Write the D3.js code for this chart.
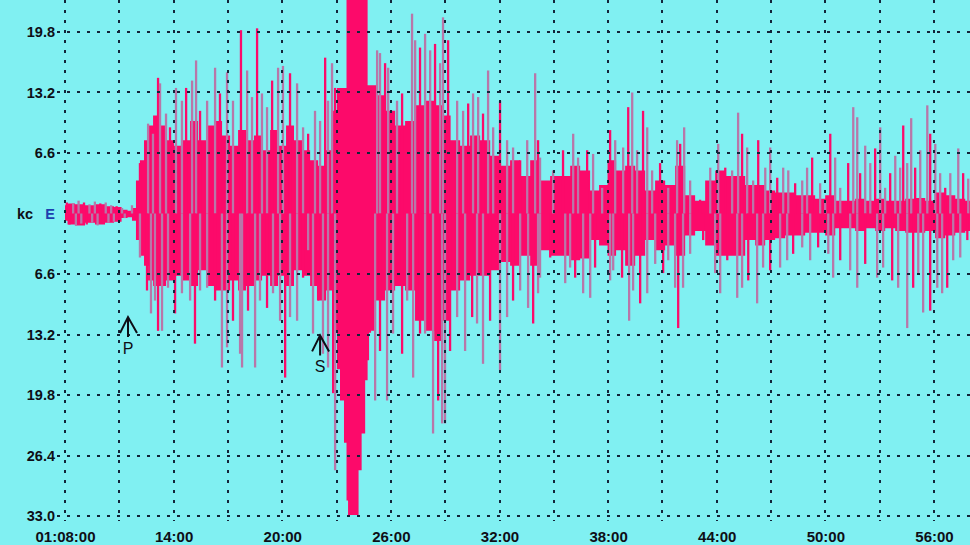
<!DOCTYPE html>
<html><head><meta charset="utf-8">
<script src="https://cdn.jsdelivr.net/npm/d3@7"></script>
<style>html,body{margin:0;padding:0;background:#80f0f2;overflow:hidden}</style>
</head><body><svg id="c" width="970" height="545"></svg>
<script>
// ---- data (minutes after 01:00, amplitude in chart units) ----
const timeTicks = [8, 14, 20, 26, 32, 38, 44, 50, 56];
const timeTickLabels = ["01:08:00","14:00","20:00","26:00","32:00","38:00","44:00","50:00","56:00"];
const gridTimes = [8, 11, 14, 17, 20, 23, 26, 29, 32, 35, 38, 41, 44, 47, 50, 53, 56];
const ampTicks = [19.8, 13.2, 6.6, 0, -6.6, -13.2, -19.8, -26.4, -33.0];
const ampTickLabels = ["19.8","13.2","6.6","E","6.6","13.2","19.8","26.4","33.0"];
const channelLabel = "kc";

const coreTime = [8.00,8.28,8.83,9.38,9.93,10.49,10.93,11.32,11.59,11.81,
 12.03,12.25,12.48,12.70,13.03,13.36,13.80,14.24,14.69,15.13,
 15.57,16.01,16.45,16.90,17.34,17.78,18.22,18.66,19.11,19.55,
 19.99,20.43,20.87,21.32,21.76,22.20,22.64,22.97,23.08,23.30,
 23.52,23.58,23.69,24.13,24.30,24.47,24.69,24.74,24.85,24.96,
 25.40,25.96,26.51,27.06,27.61,
 28.17,28.61,29.05,29.55,30.10,30.65,31.21,31.76,32.31,32.86,
 33.42,33.97,34.52,35.07,35.63,36.18,36.73,37.28,37.72,38.22,
 38.66,39.22,39.77,40.32,40.87,41.43,41.98,42.53,43.08,43.64,
 44.19,44.74,45.29,45.85,46.40,46.95,47.50,48.06,48.61,49.16,
 49.71,50.27,50.82,51.37,51.92,52.48,53.03,53.58,54.13,54.69,
 55.24,55.79,56.34,56.90,57.45,58.00];
const coreHigh = [0.9,1.1,1.0,0.9,1.0,0.8,0.7,0.4,0.3,0.6,
 3.6,5.8,8.0,9.6,10.7,9.6,8.0,7.4,8.0,10.1,
 8.0,9.6,10.1,8.5,7.4,9.1,8.0,8.5,6.9,9.1,
 7.4,9.6,8.0,6.9,5.8,5.2,6.9,11.2,13.7,13.7,
 13.7,26,26,26,26,26,26,14.0,14.0,14.0,
 12.9,11.2,9.6,10.1,11.8,
 12.3,11.8,10.7,8.0,7.4,8.5,8.0,6.3,5.2,5.8,
 4.1,5.8,3.6,4.1,4.1,5.2,4.7,2.5,3.1,5.8,
 4.7,5.2,4.7,2.5,3.6,3.1,5.2,2.0,1.4,3.6,
 4.7,4.1,4.1,3.1,3.1,2.5,2.3,2.3,2.0,2.0,
 1.6,2.0,1.4,1.4,1.6,1.4,1.6,1.4,1.4,1.6,
 1.7,1.4,2.3,2.0,1.6,1.4];
const coreLow = [-0.8,-1.2,-1.3,-1.0,-1.2,-1.0,-0.9,-0.5,-0.4,-0.8,
 -2.9,-4.6,-5.7,-7.3,-7.9,-7.9,-7.3,-6.8,-7.3,-7.9,
 -6.2,-7.9,-8.4,-8.4,-7.3,-8.4,-7.9,-7.3,-6.8,-7.9,
 -6.8,-7.9,-6.2,-6.8,-7.9,-9.5,-8.4,-12.8,-17.0,-20.4,
 -25.0,-31.3,-32.9,-32.9,-28.0,-24.0,-18.2,-16.0,-13.0,-12.8,
 -9.5,-8.4,-7.9,-8.4,-11.7,
 -12.8,-13.9,-11.7,-8.4,-7.3,-6.8,-6.8,-6.2,-5.3,-5.7,
 -4.6,-5.7,-4.0,-4.6,-4.6,-5.1,-4.9,-2.9,-3.5,-4.6,
 -4.0,-5.7,-4.6,-2.9,-4.0,-3.5,-4.6,-2.4,-1.9,-3.5,
 -4.6,-4.6,-4.6,-2.9,-3.5,-2.9,-2.7,-2.4,-2.4,-2.1,
 -2.1,-2.4,-1.6,-1.6,-1.9,-1.6,-1.9,-1.6,-1.9,-2.1,
 -2.1,-1.9,-2.7,-2.4,-2.1,-1.9];

// upward peaks [minute, amplitude]
const upPeaks = [[8.10,1.2],[8.45,1.1],[8.75,1.4],[9.05,1.2],[9.35,1.0],[9.65,1.3],[9.95,1.1],[10.25,1.2],[10.55,0.9],[10.85,0.8],[11.15,0.6],[11.70,0.9],
 [12.14,5.5],[12.59,9.8],[12.86,8.7],[13.14,14.8],[13.25,14.2],[13.58,10.9],[13.80,9.4],[14.13,13.7],[14.46,12.3],[14.69,13.7],
 [15.02,14.5],[15.24,16.7],[15.46,11.2],[15.85,12.3],[16.29,15.9],[16.56,13.1],[16.95,15.4],[17.28,12.3],[17.72,20.0],[18.06,15.6],
 [18.33,12.7],[18.61,20.2],[18.88,13.1],[19.16,11.6],[19.44,14.5],[19.77,15.9],[20.04,16.1],[20.43,15.3],[20.82,14.2],[21.15,9.4],
 [21.43,8.7],[21.81,11.2],[22.09,10.1],[22.37,17.0],[22.53,12.3],[22.75,16.4],[22.92,13.7],[25.24,17.8],[25.40,17.5],[25.68,16.4],
 [25.85,15.9],[26.34,12.3],[26.62,13.1],[27.17,21.8],[27.34,18.9],[27.61,18.1],[27.89,19.6],[28.17,17.8],[28.44,18.5],[28.72,16.4],
 [28.88,21.4],[29.16,18.9],[29.66,12.3],[29.99,11.2],[30.27,12.0],[30.54,13.1],[30.82,12.7],[31.09,10.9],[31.37,15.6],[31.65,9.4],
 [32.03,12.3],[32.42,8.0],[32.75,7.2],[33.14,5.8],[33.53,8.0],[33.97,15.3],[34.13,8.0],[34.24,6.1],[34.96,4.7],[35.51,6.9],
 [36.07,8.7],[36.34,6.1],[36.84,6.9],[37.17,6.5],[37.67,2.8],[38.11,9.1],[38.39,8.0],[38.83,7.2],[39.11,11.6],[39.33,13.2],
 [39.60,6.9],[39.93,11.2],[40.16,9.4],[40.43,4.7],[40.87,5.5],[41.32,2.8],[41.81,8.0],[41.98,7.6],[42.20,9.4],[42.53,3.6],
 [43.08,1.5],[43.64,5.0],[44.08,7.6],[44.47,5.0],[44.85,4.7],[45.18,11.0],[45.40,8.7],[45.68,7.2],[46.01,3.6],[46.29,8.0],
 [46.68,5.0],[46.95,7.2],[47.34,3.9],[47.67,5.0],[47.95,4.7],[48.33,3.3],[48.72,3.6],[48.99,5.0],[49.27,6.1],[49.71,3.3],
 [49.99,1.4],[50.27,8.7],[50.54,6.1],[50.82,2.8],[51.26,5.5],[51.54,11.6],[51.76,10.5],[51.92,4.4],[52.20,7.4],[52.48,5.5],
 [52.75,7.1],[53.03,9.4],[53.30,2.8],[53.58,4.4],[53.86,6.3],[54.13,5.0],[54.30,9.6],[54.52,5.5],[54.74,10.4],[54.96,5.0],
 [55.24,6.9],[55.63,11.8],[55.79,8.7],[56.07,7.6],[56.34,4.4],[56.62,2.8],[56.90,4.4],[57.34,7.1],[57.61,4.4],[57.89,3.8]];

// downward peaks [minute, amplitude]
const downPeaks = [[8.25,-1.2],[8.60,-1.3],[8.90,-1.1],[9.20,-1.2],[9.50,-1.0],[9.80,-1.3],[10.10,-1.1],[10.40,-1.0],[10.70,-0.9],[11.00,-0.8],[11.30,-0.5],
 [12.14,-4.8],[12.53,-8.4],[12.75,-10.9],[12.97,-9.5],[13.14,-12.8],[13.36,-12.8],[13.69,-8.1],[14.08,-10.9],[14.46,-8.7],[14.91,-9.5],
 [15.18,-14.2],[15.46,-8.4],[15.85,-8.1],[16.29,-9.5],[16.67,-16.8],[16.95,-14.6],[17.28,-11.7],[17.67,-15.3],[17.78,-16.8],[18.11,-10.6],
 [18.50,-16.8],[18.77,-9.5],[19.16,-10.3],[19.49,-8.7],[19.88,-11.7],[20.16,-17.9],[20.43,-11.3],[20.82,-11.7],[21.15,-7.0],[21.43,-4.0],
 [21.70,-13.1],[21.98,-9.5],[22.25,-15.3],[22.53,-16.8],[22.81,-19.6],[22.92,-28.0],[25.13,-20.4],[25.40,-15.0],[25.79,-20.4],[26.12,-13.1],
 [26.62,-15.3],[26.90,-9.5],[27.23,-17.9],[27.61,-13.1],[27.89,-13.1],[28.33,-24.0],[28.61,-20.4],[28.83,-22.9],[28.99,-22.9],[29.27,-15.0],
 [29.66,-11.3],[30.10,-15.0],[30.49,-11.3],[30.76,-12.0],[31.09,-16.4],[31.48,-11.7],[32.03,-17.1],[32.42,-11.3],[32.75,-9.5],[33.14,-8.4],
 [33.58,-10.3],[33.86,-12.0],[34.13,-8.7],[34.24,-7.0],[34.80,-4.8],[35.63,-7.6],[35.90,-5.9],[36.18,-7.0],[36.62,-8.7],[37.01,-9.2],
 [37.28,-5.9],[38.11,-7.3],[38.28,-6.2],[38.77,-7.0],[39.16,-11.7],[39.38,-8.4],[39.77,-9.8],[40.16,-8.7],[40.60,-5.5],[41.04,-6.5],
 [41.32,-5.1],[41.70,-8.1],[41.87,-12.5],[42.14,-8.1],[42.53,-4.4],[43.25,-2.9],[43.91,-6.5],[44.19,-8.7],[44.58,-5.1],[45.13,-9.2],
 [45.40,-8.1],[45.74,-7.3],[46.23,-9.8],[46.56,-5.9],[46.95,-6.2],[47.50,-5.9],[47.89,-5.1],[48.22,-4.4],[48.72,-3.7],[49.16,-5.1],
 [49.60,-3.7],[50.16,-4.4],[50.43,-7.0],[50.82,-5.1],[51.37,-6.2],[51.76,-8.1],[52.20,-5.5],[52.86,-7.0],[53.19,-5.9],[53.69,-7.3],
 [54.02,-8.1],[54.52,-12.5],[54.85,-8.1],[55.13,-6.5],[55.40,-10.8],[55.79,-10.6],[56.18,-8.1],[56.45,-8.7],[56.73,-8.1],[57.06,-5.1],
 [57.45,-4.8],[57.84,-2.9]];

const phaseNames = ["P", "S"];
const phaseTimes = [11.48, 22.09];
const phaseAmps = [-11.3, -13.3];

// ---- drawing ----
const W = 970, H = 545;
const BG = "#80f0f2", PINK = "#fc0a6a", MAUVE = "#b877a9", GRID = "#13253a", INK = "#0e0e16";
const svg = d3.select("#c");
const x = d3.scaleLinear().domain([8, 56]).range([65, 934]);
const y = d3.scaleLinear().domain([-33, 19.8]).range([516, 32]);

svg.append("rect").attr("width", W).attr("height", H).attr("fill", BG);
svg.append("defs").append("clipPath").attr("id", "clip")
  .append("rect").attr("x", 60).attr("y", 0).attr("width", W - 60).attr("height", 518);

// centre line sits beneath the trace
svg.append("line").attr("x1", 65).attr("x2", W)
  .attr("y1", Math.round(y(0))).attr("y2", Math.round(y(0)))
  .attr("stroke", GRID).attr("stroke-width", 2).attr("stroke-dasharray", "3,7");

const plot = svg.append("g").attr("clip-path", "url(#clip)");

const core = coreTime.map((t, i) => [t, coreHigh[i], coreLow[i]]);
plot.append("path").datum(core)
  .attr("fill", PINK)
  .attr("d", d3.area().curve(d3.curveStep).x(d => x(d[0])).y0(d => y(d[2])).y1(d => y(d[1])));

function spikes(cls, data) {
  plot.selectAll("line." + cls).data(data).join("line").attr("class", cls)
    .attr("x1", d => x(d[0])).attr("x2", d => x(d[0]))
    .attr("y1", y(0)).attr("y2", d => y(d[1]))
    .attr("stroke", (d, i) => i % 3 === 0 ? PINK : MAUVE)
    .attr("stroke-width", 2.3);
}
spikes("up", upPeaks);
spikes("down", downPeaks);

// grid on top of the trace
const grid = svg.append("g");
grid.selectAll("line.v").data(gridTimes).join("line").attr("class", "v")
  .attr("x1", d => Math.round(x(d))).attr("x2", d => Math.round(x(d)))
  .attr("y1", 0).attr("y2", 521)
  .attr("stroke", GRID).attr("stroke-width", 2).attr("stroke-dasharray", "3,7");
grid.selectAll("line.h").data(ampTicks.filter(d => d !== 0)).join("line").attr("class", "h")
  .attr("x1", 57).attr("x2", W)
  .attr("y1", d => Math.round(y(d))).attr("y2", d => Math.round(y(d)))
  .attr("stroke", GRID).attr("stroke-width", 2).attr("stroke-dasharray", "3,7");

// y labels
const yl = svg.append("g").attr("font-family", "'Liberation Sans', Arial, sans-serif")
  .attr("font-weight", "bold").attr("font-size", 14.5);
yl.selectAll("text").data(ampTicks).join("text")
  .attr("x", 55).attr("y", d => y(d)).attr("text-anchor", "end")
  .attr("dominant-baseline", "central")
  .attr("fill", d => d === 0 ? "#1d3fae" : INK)
  .text((d, i) => ampTickLabels[i]);
yl.append("text").attr("x", 17).attr("y", y(0)).attr("dominant-baseline", "central")
  .attr("fill", INK).text(channelLabel);

// x labels via axis
const xa = svg.append("g").attr("transform", "translate(0,526)")
  .call(d3.axisBottom(x).tickValues(timeTicks).tickFormat((d, i) => timeTickLabels[i]).tickSize(0).tickPadding(5));
xa.select(".domain").remove();
xa.selectAll("text").attr("font-family", "'Liberation Sans', Arial, sans-serif")
  .attr("font-weight", "bold").attr("font-size", 15).attr("fill", INK);

// phase arrows
const ph = svg.append("g").selectAll("g").data(phaseNames).join("g")
  .attr("transform", (d, i) => `translate(${x(phaseTimes[i])},${y(phaseAmps[i])})`);
ph.append("path").attr("d", "M-8,16L0,0L9,16M0,0L0,20")
  .attr("fill", "none").attr("stroke", INK).attr("stroke-width", 2);
ph.append("text").attr("y", 31).attr("text-anchor", "middle").attr("dominant-baseline", "central")
  .attr("font-family", "'Liberation Sans', Arial, sans-serif").attr("font-size", 16).attr("fill", INK)
  .text(d => d);
</script></body></html>
